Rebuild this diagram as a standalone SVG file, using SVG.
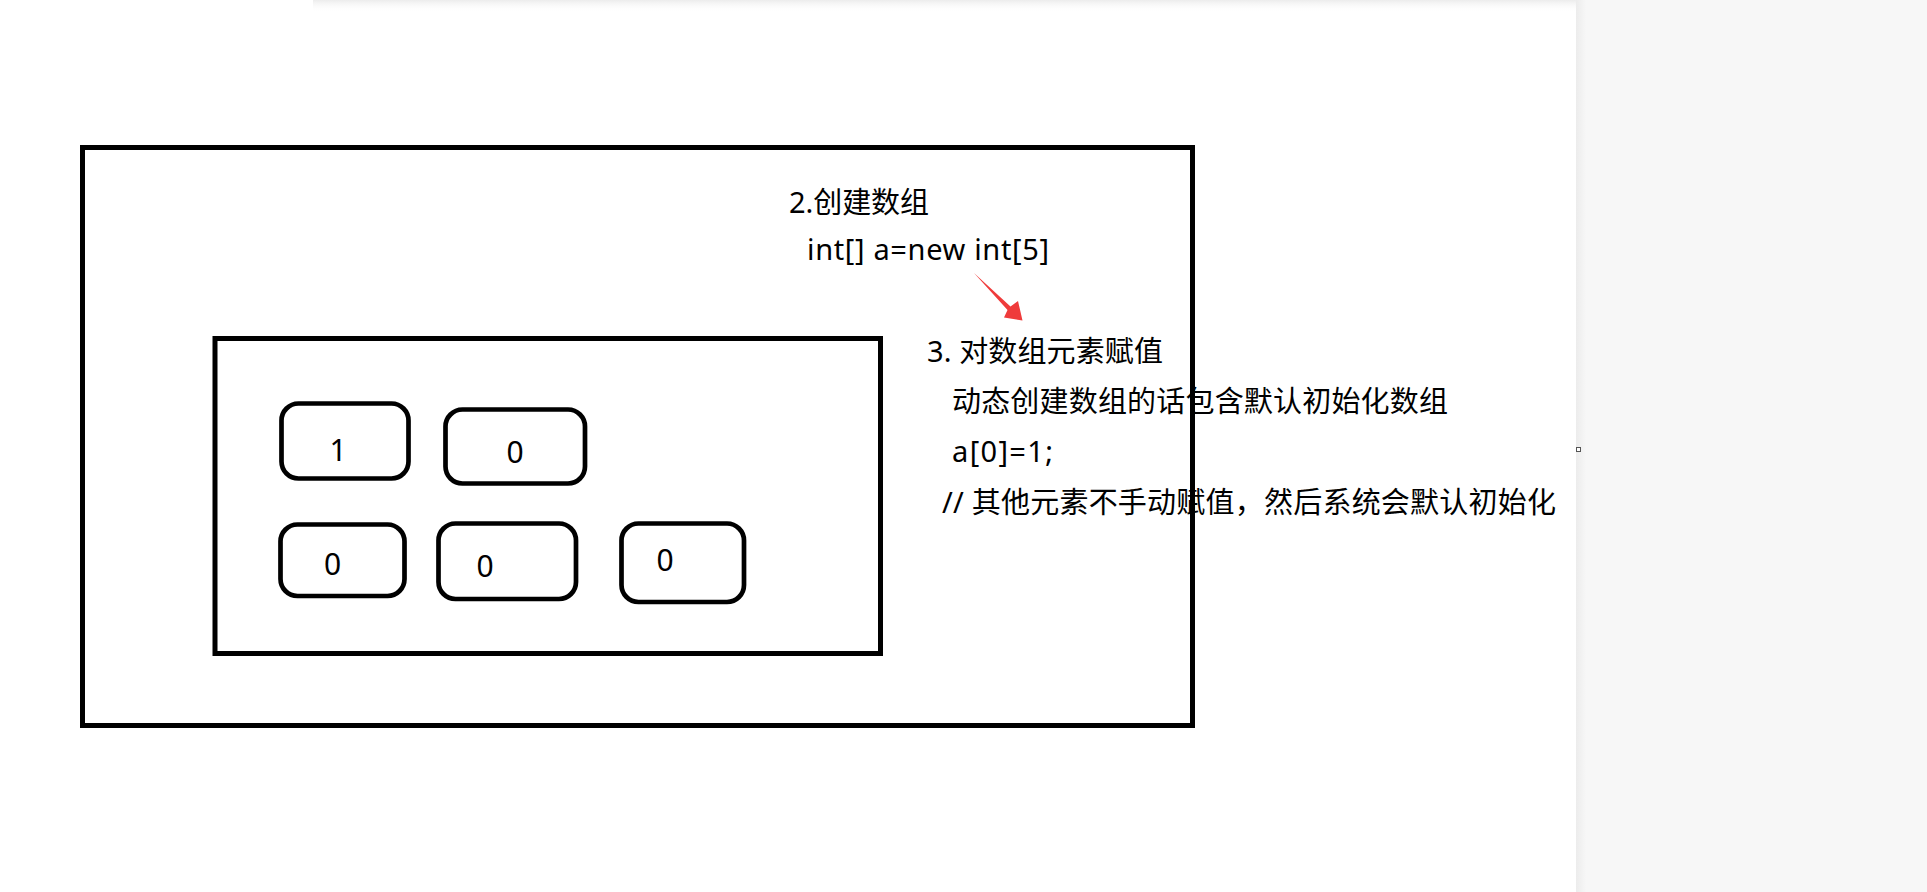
<svg xmlns="http://www.w3.org/2000/svg" width="1927" height="892" viewBox="0 0 1927 892">
  <defs>
    <linearGradient id="topShadow" x1="0" y1="0" x2="0" y2="1">
      <stop offset="0" stop-color="#ececec"/>
      <stop offset="1" stop-color="#ffffff" stop-opacity="0"/>
    </linearGradient>
    <linearGradient id="panelEdge" x1="0" y1="0" x2="1" y2="0">
      <stop offset="0" stop-color="#ececec"/>
      <stop offset="1" stop-color="#f7f7f7"/>
    </linearGradient>
  </defs>
  <style>
    .frame { fill: none; stroke: #000; stroke-width: 5; }
    .cell { fill: #fff; stroke: #000; stroke-width: 4.7; }
    .txt { font-family: "Noto Sans", "Noto Sans CJK SC", sans-serif; font-size: 29px; fill: #000; }
    .num { font-family: "Noto Sans", "Liberation Sans", sans-serif; font-size: 30px; fill: #000; text-anchor: middle; }
  </style>
  <rect x="0" y="0" width="1927" height="892" fill="#ffffff"/>
  <!-- page background elements -->
  <rect x="313" y="0" width="1444" height="12" fill="url(#topShadow)"/>
  <rect x="1576" y="0" width="351" height="892" fill="#f7f7f7"/>
  <rect x="1576" y="0" width="10" height="892" fill="url(#panelEdge)"/>
  <rect x="1576.5" y="447.5" width="4" height="4" fill="#fff" stroke="#555" stroke-width="1"/>

  <g id="outer">
    <rect class="frame" x="82.5" y="147.5" width="1110" height="578"/>
  </g>
  <g id="inner">
    <rect class="frame" x="215" y="338.5" width="665.5" height="315"/>
  </g>

  <g id="cell0">
    <rect class="cell" x="281.5" y="403.5" width="127" height="75" rx="17"/>
    <text class="num" x="338" y="461">1</text>
  </g>
  <g id="cell1">
    <rect class="cell" x="445.5" y="409.5" width="139.5" height="74" rx="17"/>
    <text class="num" x="515" y="463">0</text>
  </g>
  <g id="cell2">
    <rect class="cell" x="280.5" y="524.5" width="124" height="71.5" rx="17"/>
    <text class="num" x="332.5" y="575">0</text>
  </g>
  <g id="cell3">
    <rect class="cell" x="438.5" y="523.5" width="137.5" height="75.5" rx="17"/>
    <text class="num" x="485" y="577">0</text>
  </g>
  <g id="cell4">
    <rect class="cell" x="621.5" y="523.5" width="122.5" height="78.5" rx="17"/>
    <text class="num" x="665" y="571">0</text>
  </g>

  <g id="label-create">
    <text class="txt" x="789" y="213" textLength="140" lengthAdjust="spacing">2.创建数组</text>
    <text class="txt" x="807" y="260" textLength="242" lengthAdjust="spacing">int[] a=new int[5]</text>
  </g>

  <g id="connectors">
    <polygon points="974,273 1010.5,306.5 1018,301 1022.5,320.5 1004,317.5 1007.5,310" fill="#ef3b3b"/>
  </g>

  <g id="label-assign">
    <text class="txt" x="927" y="362" textLength="236" lengthAdjust="spacing">3. 对数组元素赋值</text>
    <text class="txt" x="952" y="412" textLength="496" lengthAdjust="spacing">动态创建数组的话包含默认初始化数组</text>
    <text class="txt" x="952" y="462" textLength="101" lengthAdjust="spacing">a[0]=1;</text>
    <text class="txt" x="942" y="513" textLength="614" lengthAdjust="spacing">// 其他元素不手动赋值，然后系统会默认初始化</text>
  </g>
</svg>
